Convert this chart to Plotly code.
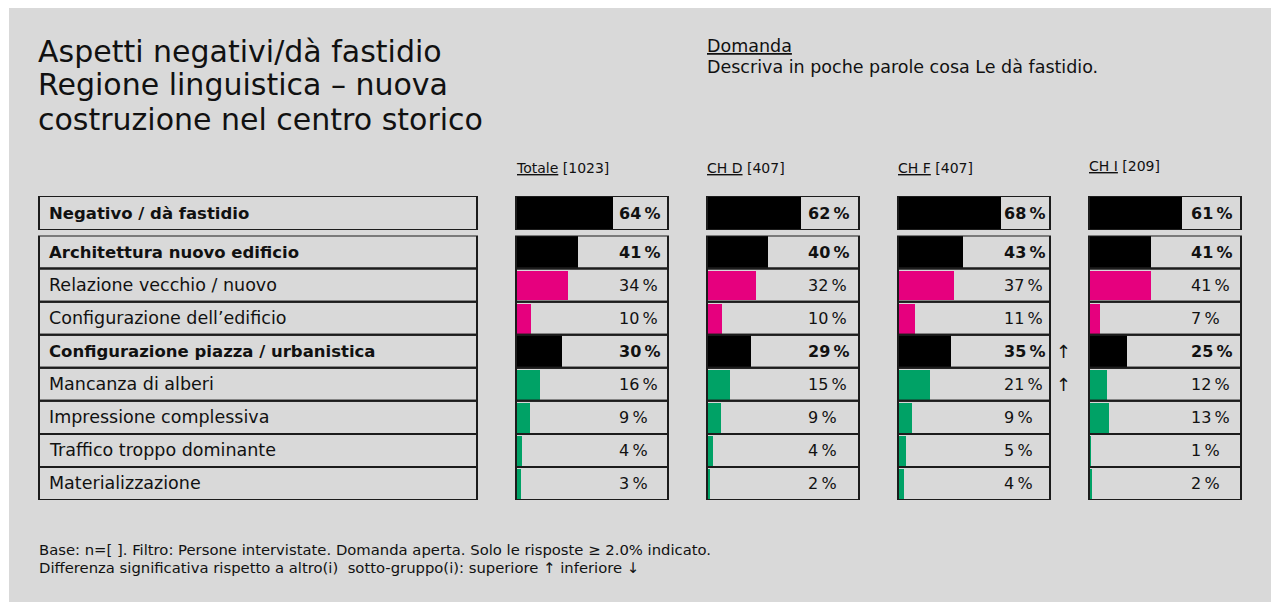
import plotly.graph_objects as go

# ---- data -------------------------------------------------------------
title_lines = ["Aspetti negativi/dà fastidio",
               "Regione linguistica – nuova",
               "costruzione nel centro storico"]
question_head = "Domanda"
question_text = "Descriva in poche parole cosa Le dà fastidio."

columns = ["Totale", "CH D", "CH F", "CH I"]
bases = [1023, 407, 407, 209]

top_label = "Negativo / dà fastidio"
top_values = [64, 62, 68, 61]

row_labels = ["Architettura nuovo edificio",
              "Relazione vecchio / nuovo",
              "Configurazione dell’edificio",
              "Configurazione piazza / urbanistica",
              "Mancanza di alberi",
              "Impressione complessiva",
              "Traffico troppo dominante",
              "Materializzazione"]
row_is_group = [True, False, False, True, False, False, False, False]

totale = [41, 34, 10, 30, 16, 9, 4, 3]
ch_d = [40, 32, 10, 29, 15, 9, 4, 2]
ch_f = [43, 37, 11, 35, 21, 9, 5, 4]
ch_i = [41, 41, 7, 25, 12, 13, 1, 2]
row_values = [totale, ch_d, ch_f, ch_i]

sig_totale = [""] * 8
sig_ch_d = [""] * 8
sig_ch_f = ["", "", "", "↑", "↑", "", "", ""]
sig_ch_i = [""] * 8
row_sig = [sig_totale, sig_ch_d, sig_ch_f, sig_ch_i]

footnotes = ["Base: n=[ ]. Filtro: Persone intervistate. Domanda aperta. Solo le risposte ≥ 2.0% indicato.",
             "Differenza significativa rispetto a altro(i)  sotto-gruppo(i): superiore ↑ inferiore ↓"]

# ---- layout geometry (pixels) -----------------------------------------
W, H = 1271, 602
FONT = "DejaVu Sans"
INK = "#111111"
FRAME = "#1c1c1c"
BG = "#d9d9d9"
PINK = "#e6007e"
GREEN = "#00a266"

def px(x):
    return x / W

def py(y):
    return 1 - y / H

col_px = [(516, 668), (707, 859), (898, 1050), (1089, 1241)]
value_left_px = [617, 806, 1002, 1189]   # left edge of the percentage text per column
label_px = (39, 477)
top_py = (196, 230)
grp_py = (235.5, 500)

n = len(row_labels)

# colour of each group row: black for headings, colour for sub-items
sub_colors = []
current = PINK
for i, g in enumerate(row_is_group):
    if g:
        current = PINK if i == 0 else GREEN
        sub_colors.append("black")
    else:
        sub_colors.append(current)

fig = go.Figure()
layout = dict(
    width=W, height=H,
    margin=dict(l=0, r=0, t=0, b=0),
    paper_bgcolor="white", plot_bgcolor="rgba(0,0,0,0)",
    showlegend=False, bargap=0,
    font=dict(family=FONT, color=INK),
    yaxis=dict(domain=[py(top_py[1]), py(top_py[0])], range=[0.5, -0.5],
               visible=False, fixedrange=True),
    yaxis2=dict(domain=[py(grp_py[1]), py(grp_py[0])], range=[n - 0.5, -0.5],
                visible=False, fixedrange=True),
)

shapes = [dict(type="rect", xref="paper", yref="paper", x0=px(9), x1=1,
               y0=0, y1=py(8), fillcolor=BG, line=dict(width=0), layer="below")]
annotations = []

VAL_SIZE = 16
LAB_SIZE = 17.5
LAB_BOLD_SIZE = 16.5

for k, name in enumerate(columns):
    xa = "x" if k == 0 else f"x{k + 1}"
    key = "xaxis" if k == 0 else f"xaxis{k + 1}"
    c0, c1 = col_px[k]
    layout[key] = dict(domain=[px(c0), px(c1)], range=[0, 100],
                       visible=False, fixedrange=True, anchor="y")
    tx = (value_left_px[k] - c0) / (c1 - c0)

    # headline row
    fig.add_trace(go.Bar(x=[top_values[k]], y=[0], orientation="h", width=[1.0],
                         marker=dict(color="black", line=dict(width=0)),
                         xaxis=xa, yaxis="y", hoverinfo="skip"))
    shapes.append(dict(type="rect", xref=f"{xa} domain", yref="y", x0=0, x1=1,
                       y0=-0.5, y1=0.5, line=dict(color=FRAME, width=2)))
    annotations.append(dict(xref=f"{xa} domain", yref="y", x=tx, y=0, xanchor="left",
                            showarrow=False, text=f"<b>{top_values[k]}\u2009%</b>",
                            font=dict(size=VAL_SIZE, color=INK)))

    # detail rows
    vals = row_values[k]
    fig.add_trace(go.Bar(x=vals, y=list(range(n)), orientation="h",
                         width=[1.0 if g else 0.9 for g in row_is_group],
                         marker=dict(color=sub_colors, line=dict(width=0)),
                         xaxis=xa, yaxis="y2", hoverinfo="skip"))
    for i, v in enumerate(vals):
        shapes.append(dict(type="rect", xref=f"{xa} domain", yref="y2", x0=0, x1=1,
                           y0=i - 0.5, y1=i + 0.5, line=dict(color=FRAME, width=2)))
        txt = f"{v}\u2009%"
        if row_is_group[i]:
            txt = f"<b>{txt}</b>"
        annotations.append(dict(xref=f"{xa} domain", yref="y2", x=tx, y=i,
                                xanchor="left", showarrow=False,
                                text=txt, font=dict(size=VAL_SIZE, color=INK)))
        if row_sig[k][i]:
            annotations.append(dict(xref=f"{xa} domain", yref="y2", x=1, y=i,
                                    xanchor="left", xshift=4, showarrow=False,
                                    text=row_sig[k][i], font=dict(size=18, color=INK)))

    # column heading
    annotations.append(dict(xref="paper", yref="paper", x=px(c0 - 2),
                            y=py(168 if k < 3 else 166), xanchor="left", yanchor="middle",
                            showarrow=False, text=f"<u>{name}</u> [{bases[k]}]",
                            font=dict(size=14, color=INK)))

# row label column
shapes.append(dict(type="rect", xref="paper", yref="y", x0=px(label_px[0]),
                   x1=px(label_px[1]), y0=-0.5, y1=0.5, line=dict(color=FRAME, width=2)))
annotations.append(dict(xref="paper", yref="y", x=px(label_px[0] + 8), y=0,
                        xanchor="left", showarrow=False, text=f"<b>{top_label}</b>",
                        font=dict(size=LAB_BOLD_SIZE, color=INK)))
for i, lab in enumerate(row_labels):
    shapes.append(dict(type="rect", xref="paper", yref="y2", x0=px(label_px[0]),
                       x1=px(label_px[1]), y0=i - 0.5, y1=i + 0.5,
                       line=dict(color=FRAME, width=2)))
    annotations.append(dict(xref="paper", yref="y2", x=px(label_px[0] + 8), y=i,
                            xanchor="left", showarrow=False,
                            text=f"<b>{lab}</b>" if row_is_group[i] else lab,
                            font=dict(size=LAB_BOLD_SIZE if row_is_group[i] else LAB_SIZE,
                                      color=INK)))

# title block
for j, line in enumerate(title_lines):
    annotations.append(dict(xref="paper", yref="paper", x=px(36), y=py(51 + 34 * j),
                            xanchor="left", yanchor="middle", showarrow=False,
                            text=line, font=dict(size=30, color=INK)))

annotations.append(dict(xref="paper", yref="paper", x=px(705), y=py(46),
                        xanchor="left", yanchor="middle", showarrow=False,
                        text=f"<u>{question_head}</u>", font=dict(size=17.5, color=INK)))
annotations.append(dict(xref="paper", yref="paper", x=px(705), y=py(67),
                        xanchor="left", yanchor="middle", showarrow=False,
                        text=question_text, font=dict(size=17.5, color=INK)))

for j, line in enumerate(footnotes):
    annotations.append(dict(xref="paper", yref="paper", x=px(37), y=py(549 + 18 * j),
                            xanchor="left", yanchor="middle", showarrow=False,
                            text=line, font=dict(size=14.8, color=INK)))

layout["shapes"] = shapes
layout["annotations"] = annotations
fig.update_layout(**layout)
fig.write_html("out.html", config={"displayModeBar": False})
